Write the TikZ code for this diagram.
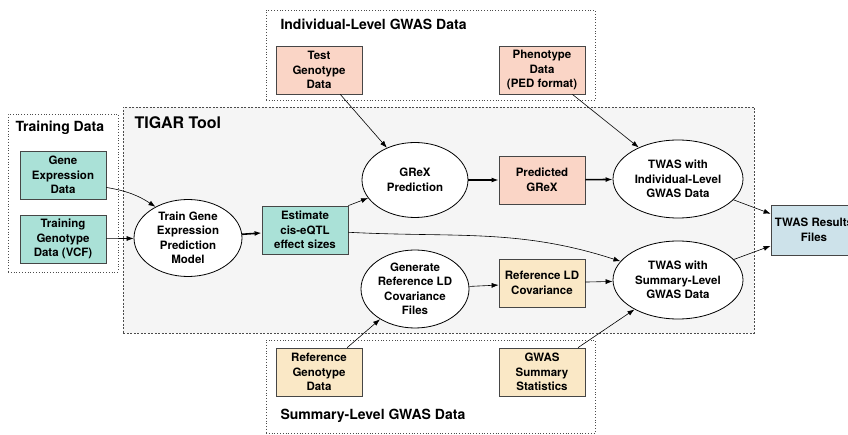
\documentclass[tikz,border=0pt]{standalone}
\usepackage{fontspec}
\setmainfont{TeX Gyre Heros}
\usetikzlibrary{arrows.meta,shapes.geometric}

\definecolor{tealbox}{RGB}{170,225,215}
\definecolor{pinkbox}{RGB}{250,213,198}
\definecolor{sandbox}{RGB}{250,232,198}
\definecolor{bluebox}{RGB}{205,226,234}
\definecolor{toolgray}{RGB}{245,245,245}
\definecolor{edgegray}{RGB}{70,70,70}

\tikzset{
  databox/.style={draw=edgegray, line width=0.8pt, minimum width=86, minimum height=48,
    inner sep=1pt, align=center, font=\fontsize{11.5}{14.5}\selectfont\bfseries},
  procnode/.style={draw=black, ellipse, fill=white, line width=0.8pt, inner sep=0pt,
    minimum width=108, minimum height=77, align=center, font=\fontsize{11.5}{14.5}\selectfont\bfseries},
  groupbox/.style={draw=black!70, dotted, line width=0.8pt, inner sep=0pt},
  grouptitle/.style={anchor=west, font=\fontsize{14}{16}\selectfont\bfseries},
  flow/.style={-{Latex[length=7pt,width=5pt]}, line width=0.6pt},
  mainflow/.style={-{Latex[length=7pt,width=5pt]}, line width=1.6pt}
}

\begin{document}
\begin{tikzpicture}[x=1pt,y=-1pt]
  \useasboundingbox (0,0) rectangle (848,435);

  % groups
  \node[groupbox, fill=toolgray, dash pattern=on 2pt off 1.5pt, minimum width=631, minimum height=226] (tool) at (438.5,220) {};
  \node[groupbox, minimum width=110, minimum height=158] (train) at (63,193) {};
  \node[groupbox, minimum width=329, minimum height=90] (indiv) at (430.5,55) {};
  \node[groupbox, minimum width=329, minimum height=93] (summ) at (430.5,386.5) {};
  \node[grouptitle] (train_t) at (12,128) {Training Data};
  \node[grouptitle, font=\fontsize{16}{18}\selectfont\bfseries] (tool_t) at (131,123) {TIGAR Tool};
  \node[grouptitle] (indiv_t) at (277,24) {Individual-Level GWAS Data};
  \node[grouptitle] (summ_t) at (277,416) {Summary-Level GWAS Data};

  % data
  \node[databox, fill=tealbox] (gexp) at (63,175) {Gene\\Expression\\Data};
  \node[databox, fill=tealbox] (tgeno) at (63,239) {Training\\Genotype\\Data (VCF)};
  \node[databox, fill=tealbox] (eqtl) at (305,230) {Estimate\\cis-eQTL\\effect sizes};
  \node[databox, fill=pinkbox] (test) at (319,70) {Test\\Genotype\\Data};
  \node[databox, fill=pinkbox] (pheno) at (542,70) {Phenotype\\Data\\(PED format)};
  \node[databox, fill=pinkbox] (pgrex) at (542,180) {Predicted\\GReX};
  \node[databox, fill=sandbox] (refld) at (542,283) {Reference LD\\Covariance};
  \node[databox, fill=sandbox] (refgeno) at (319,372) {Reference\\Genotype\\Data};
  \node[databox, fill=sandbox] (gwas) at (542,372) {GWAS\\Summary\\Statistics};
  \node[databox, fill=bluebox, minimum height=50] (result) at (814,230) {TWAS Results\\Files};

  % steps
  \node[procnode] (model) at (188,238) {Train Gene\\Expression\\Prediction\\Model};
  \node[procnode, minimum width=106, minimum height=75] (grex) at (415,180) {GReX\\Prediction};
  \node[procnode, minimum height=78] (gencov) at (415,289) {Generate\\Reference LD\\Covariance\\Files};
  \node[procnode, minimum width=130, minimum height=78] (twasi) at (678,179) {TWAS with\\Individual-Level\\GWAS Data};
  \node[procnode, minimum width=130, minimum height=78] (twass) at (678,280) {TWAS with\\Summary-Level\\GWAS Data};

  \path[flow]
    (gexp.-16) edge [bend left=12] (model)
    (tgeno) edge (model)
    (eqtl.north east) edge (grex)
    (eqtl) edge [out=-3, in=162] (twass)
    (test) edge (grex)
    (pheno) edge (twasi)
    (gencov) edge (refld)
    (refld) edge (twass)
    (refgeno) edge (gencov)
    (gwas) edge (twass)
    (twasi) edge (result)
    (twass) edge (result);
  \path[mainflow]
    (model) edge (eqtl)
    (grex) edge (pgrex)
    (pgrex) edge (twasi);
\end{tikzpicture}
\end{document}
